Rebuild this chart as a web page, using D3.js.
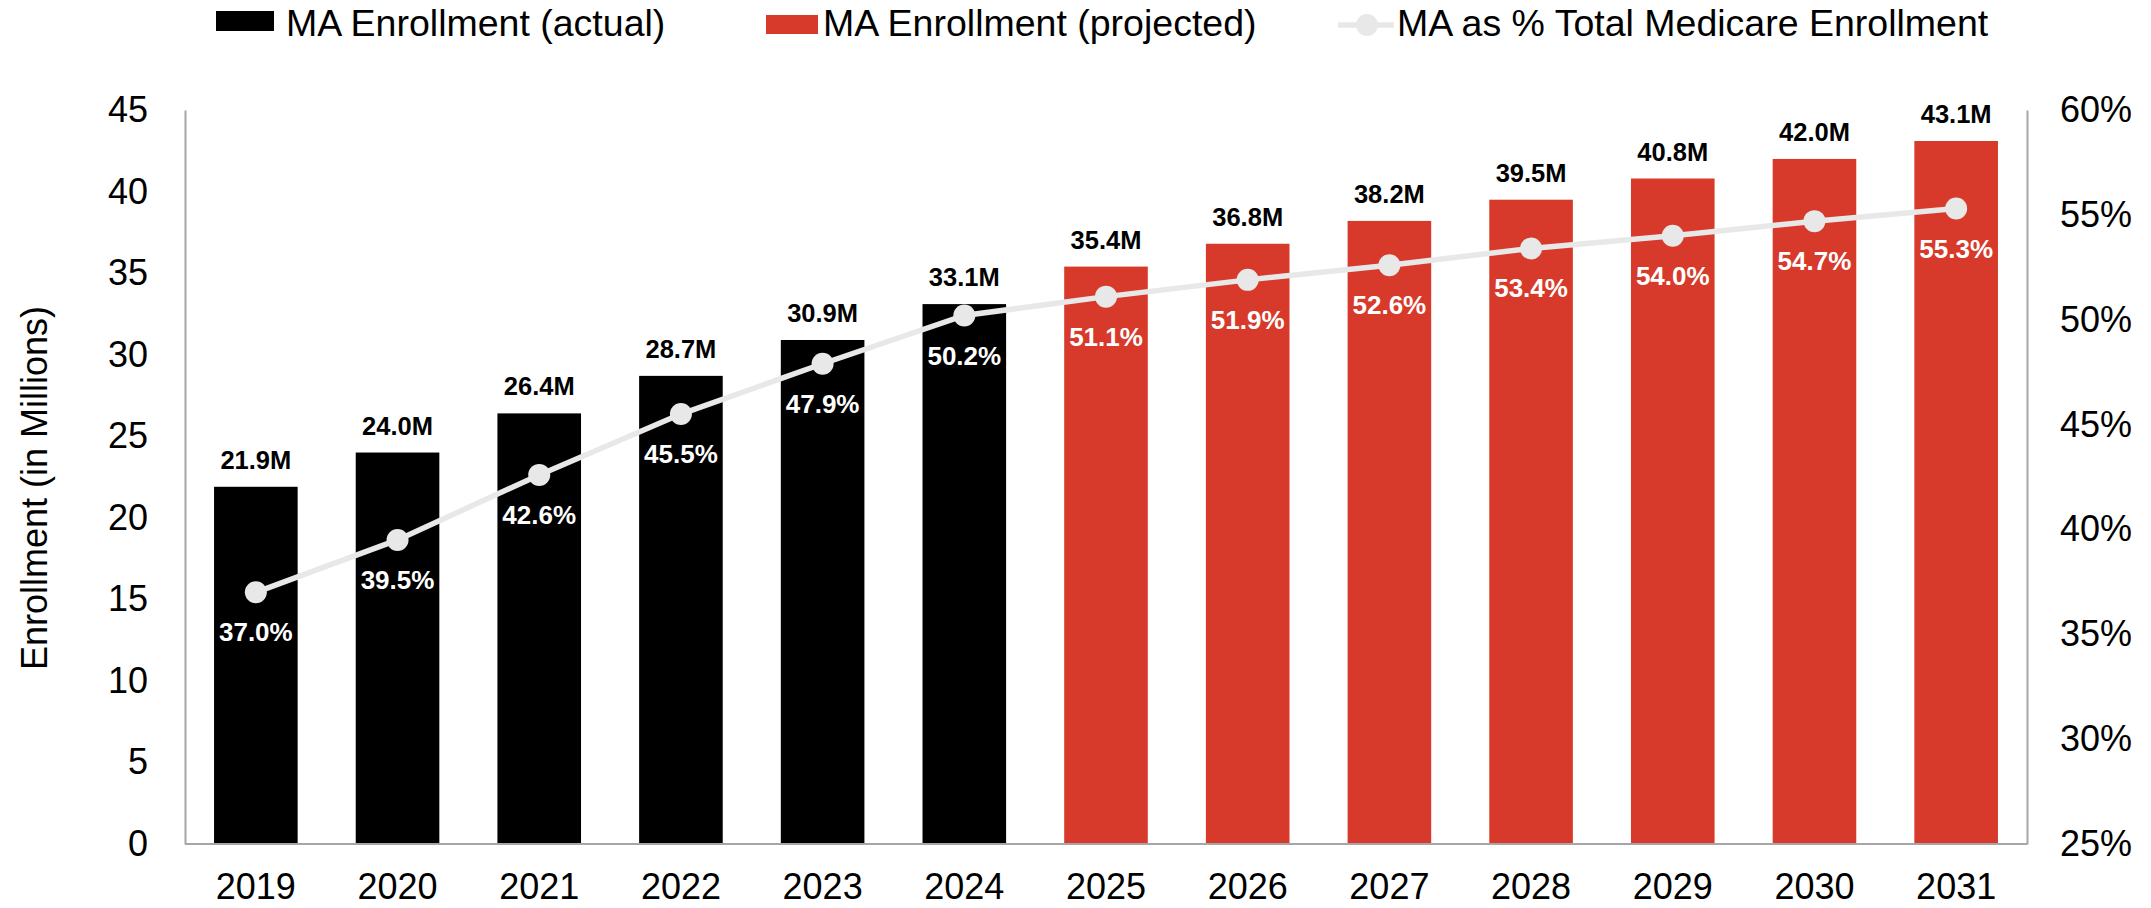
<!DOCTYPE html>
<html>
<head>
<meta charset="utf-8">
<script src="https://cdn.jsdelivr.net/npm/d3@7/dist/d3.min.js"></script>
<style>
  html, body { margin: 0; padding: 0; background: #ffffff; }
  svg { display: block; font-family: "Liberation Sans", Arial, Helvetica, sans-serif; }
</style>
</head>
<body>
<svg id="chart" width="2151" height="908"></svg>
<script>
// ---- data ----
const years = ["2019","2020","2021","2022","2023","2024","2025","2026","2027","2028","2029","2030","2031"];
const enrollment = [21.9, 24.0, 26.4, 28.7, 30.9, 33.1, 35.4, 36.8, 38.2, 39.5, 40.8, 42.0, 43.1];
const pctOfMedicare = [37.0, 39.5, 42.6, 45.5, 47.9, 50.2, 51.1, 51.9, 52.6, 53.4, 54.0, 54.7, 55.3];
const status = ["actual","actual","actual","actual","actual","actual","projected","projected","projected","projected","projected","projected","projected"];
const leftTicks = [0, 5, 10, 15, 20, 25, 30, 35, 40, 45];
const rightTicks = [25, 30, 35, 40, 45, 50, 55, 60];
const legendLabels = ["MA Enrollment (actual)", "MA Enrollment (projected)", "MA as % Total Medicare Enrollment"];
const yTitle = "Enrollment (in Millions)";

const colors = { actual: "#000000", projected: "#d73a2a", line: "#e8e8e8", axis: "#a6a6a6" };

const rows = years.map((y, i) => ({ year: y, value: enrollment[i], pct: pctOfMedicare[i], status: status[i] }));

// ---- layout ----
const plot = { left: 185, right: 2027, top: 110, bottom: 844 };
const svg = d3.select("#chart");

const x = d3.scaleBand().domain(years).range([plot.left, plot.right]).paddingInner(0.41).paddingOuter(0.205);
const yL = d3.scaleLinear().domain([0, 45]).range([plot.bottom, plot.top]);
const yR = d3.scaleLinear().domain([25, 60]).range([plot.bottom, plot.top]);

// ---- bars ----
svg.append("g").selectAll("rect").data(rows).join("rect")
  .attr("x", d => x(d.year))
  .attr("y", d => yL(d.value))
  .attr("width", x.bandwidth())
  .attr("height", d => yL(0) - yL(d.value))
  .attr("fill", d => colors[d.status]);

// ---- axes ----
const axisL = d3.axisLeft(yL).tickValues(leftTicks).tickSize(0).tickPadding(37).tickFormat(d3.format("d"));
const gL = svg.append("g").attr("transform", `translate(${plot.left},0)`).call(axisL);
const axisR = d3.axisRight(yR).tickValues(rightTicks).tickSize(0).tickPadding(33).tickFormat(d => d + "%");
const gR = svg.append("g").attr("transform", `translate(${plot.right},0)`).call(axisR);
const axisB = d3.axisBottom(x).tickSize(0).tickPadding(29);
const gB = svg.append("g").attr("transform", `translate(0,${plot.bottom})`).call(axisB);

[gL, gR, gB].forEach(g => {
  g.select(".domain").attr("stroke", colors.axis).attr("stroke-width", 2);
  g.selectAll("text").attr("font-size", 36).attr("fill", "#000")
    .attr("font-family", '"Liberation Sans", Arial, sans-serif');
});
gB.select(".domain").attr("d", `M${plot.left},0H${plot.right}`);
gB.selectAll("text").attr("dy", "0.71em");

// ---- line ----
const lineGen = d3.line().x(d => x(d.year) + x.bandwidth() / 2).y(d => yR(d.pct));
svg.append("path").datum(rows)
  .attr("d", lineGen)
  .attr("fill", "none")
  .attr("stroke", colors.line)
  .attr("stroke-width", 5.5);
svg.append("g").selectAll("circle").data(rows).join("circle")
  .attr("cx", d => x(d.year) + x.bandwidth() / 2)
  .attr("cy", d => yR(d.pct))
  .attr("r", 11)
  .attr("fill", colors.line);

// ---- data labels ----
svg.append("g").selectAll("text").data(rows).join("text")
  .attr("x", d => x(d.year) + x.bandwidth() / 2)
  .attr("y", d => yL(d.value) - 18)
  .attr("text-anchor", "middle")
  .attr("font-size", 25.5).attr("font-weight", "bold").attr("fill", "#000")
  .text(d => d.value.toFixed(1) + "M");

svg.append("g").selectAll("text").data(rows).join("text")
  .attr("x", d => x(d.year) + x.bandwidth() / 2)
  .attr("y", d => yR(d.pct) + 49)
  .attr("text-anchor", "middle")
  .attr("font-size", 26).attr("font-weight", "bold").attr("fill", "#ffffff")
  .text(d => d.pct.toFixed(1) + "%");

// ---- y title ----
svg.append("text")
  .attr("transform", "translate(47,488) rotate(-90)")
  .attr("text-anchor", "middle")
  .attr("font-size", 36).attr("fill", "#000")
  .text(yTitle);

// ---- legend ----
const lg = svg.append("g");
lg.append("rect").attr("x", 216).attr("y", 11).attr("width", 58).attr("height", 20).attr("fill", colors.actual);
lg.append("text").attr("x", 286).attr("y", 36).attr("font-size", 37.5).text(legendLabels[0]);
lg.append("rect").attr("x", 766).attr("y", 15).attr("width", 52).attr("height", 19).attr("fill", colors.projected);
lg.append("text").attr("x", 823).attr("y", 36).attr("font-size", 37.5).text(legendLabels[1]);
lg.append("line").attr("x1", 1338).attr("x2", 1394).attr("y1", 25).attr("y2", 25)
  .attr("stroke", colors.line).attr("stroke-width", 5.5);
lg.append("circle").attr("cx", 1367).attr("cy", 25).attr("r", 11).attr("fill", colors.line);
lg.append("text").attr("x", 1397).attr("y", 36).attr("font-size", 37.5).text(legendLabels[2]);
</script>
</body>
</html>
